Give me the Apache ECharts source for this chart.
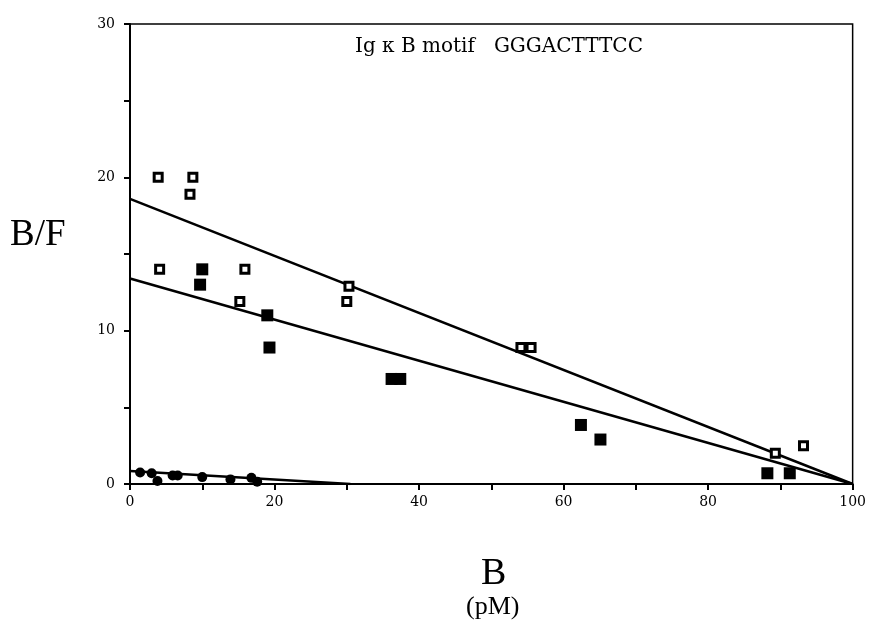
<!DOCTYPE html>
<html>
<head>
<meta charset="utf-8">
<script src="https://cdn.jsdelivr.net/npm/echarts@6/dist/echarts.min.js"></script>
<style>
  html, body { margin: 0; padding: 0; background: #fff; }
  #main { width: 869px; height: 624px; }
</style>
</head>
<body>
<div id="main"></div>
<script>
// open squares (upper line)
var openSquares = [
  [3.9, 20.0], [8.7, 20.0], [8.3, 18.9], [4.1, 14.0], [15.9, 14.0],
  [15.2, 11.9], [30.3, 12.9], [30.0, 11.9], [54.1, 8.9], [55.5, 8.9],
  [89.3, 2.0], [93.2, 2.5]
]
// filled squares (lower line)
var filledSquares = [
  [10.0, 14.0], [9.7, 13.0], [19.0, 11.0], [19.3, 8.9], [36.2, 6.85],
  [37.4, 6.85], [62.4, 3.85], [65.1, 2.9], [88.2, 0.7], [91.3, 0.7]
]
// filled dots near the axis
var dots = [
  [1.4, 0.75], [3.0, 0.7], [3.8, 0.2], [5.9, 0.55], [6.6, 0.55],
  [10.0, 0.45], [13.9, 0.3], [16.8, 0.4], [17.6, 0.15]
]
// fitted lines
var upperFit = [[0, 18.6], [100, 0]]
var lowerFit = [[0, 13.4], [100, 0]]
var dotFit = [[0, 0.85], [30.5, 0]]

var serif = '"DejaVu Serif", "Liberation Serif", serif'
var times = '"Liberation Serif", serif'

var chart = echarts.init(document.getElementById('main'))

function fitLine (data) {
  return {
    type: 'line', data: data, symbol: 'none', silent: true,
    lineStyle: { color: '#000', width: 2.5 }, z: 2
  }
}

chart.setOption({
  animation: false,
  backgroundColor: '#fff',
  grid: {
    left: 130, right: 16, top: 24, bottom: 140,
    show: true, borderColor: '#000', borderWidth: 1.5
  },
  graphic: [
    { type: 'text', left: 355, top: 37, style: { text: 'Ig κ B motif   GGGACTTTCC', font: '20px ' + serif, fill: '#000' } },
    { type: 'text', left: 10, top: 217, style: { text: 'B/F', font: '37px ' + times, fill: '#000' } },
    { type: 'text', left: 481, top: 555, style: { text: 'B', font: '38px ' + times, fill: '#000' } },
    { type: 'text', left: 466, top: 594, style: { text: '(pM)', font: '26px ' + times, fill: '#000' } }
  ],
  xAxis: {
    type: 'value', min: 0, max: 100, interval: 10,
    axisLine: { lineStyle: { color: '#000', width: 2 } },
    axisTick: { show: true, length: 6, lineStyle: { color: '#000', width: 2 } },
    splitLine: { show: false },
    axisLabel: {
      color: '#000', fontFamily: serif, fontSize: 14, margin: 11,
      formatter: function (v) { return v % 20 === 0 ? String(v) : '' }
    }
  },
  yAxis: {
    type: 'value', min: 0, max: 30, interval: 5,
    axisLine: { lineStyle: { color: '#000', width: 2 } },
    axisTick: { show: true, length: 6, lineStyle: { color: '#000', width: 2 } },
    splitLine: { show: false },
    axisLabel: {
      color: '#000', fontFamily: serif, fontSize: 14, margin: 15,
      formatter: function (v) { return v % 10 === 0 ? String(v) : '' }
    }
  },
  series: [
    fitLine(upperFit),
    fitLine(lowerFit),
    fitLine(dotFit),
    {
      type: 'scatter', data: openSquares, symbol: 'rect', symbolSize: 8, z: 3,
      itemStyle: { color: '#fff', borderColor: '#000', borderWidth: 3, opacity: 1 }
    },
    {
      type: 'scatter', data: filledSquares, symbol: 'rect', symbolSize: 12, z: 3,
      itemStyle: { color: '#000', opacity: 1 }
    },
    {
      type: 'scatter', data: dots, symbol: 'circle', symbolSize: 10, z: 3,
      itemStyle: { color: '#000', opacity: 1 }
    }
  ]
})
</script>
</body>
</html>
